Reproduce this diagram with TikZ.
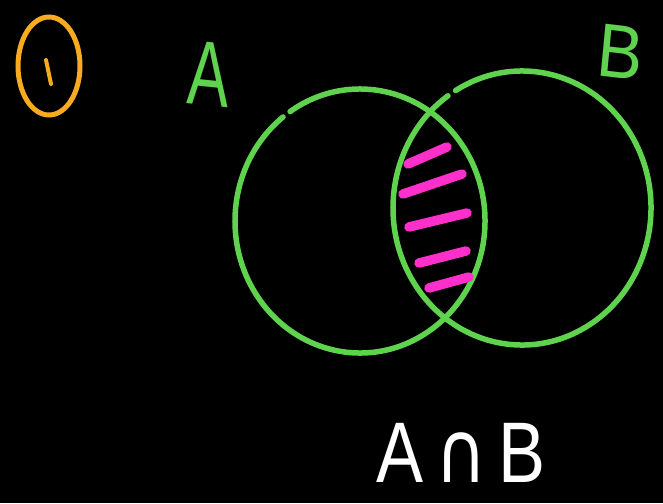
\documentclass[tikz,border=0pt]{standalone}
\usepackage{fontspec}
\setmainfont{Liberation Sans}
\newfontfamily\symfont{DejaVu Sans}
\definecolor{vgreen}{HTML}{5FD34E}
\definecolor{vpink}{HTML}{FF2FCB}
\definecolor{vorange}{HTML}{F7AC1F}
\tikzset{
  setline/.style={draw=vgreen, line width=5.5pt, line cap=round},
  hatch/.style={draw=vpink, line width=9.5pt, line cap=round},
  greenlbl/.style={text=vgreen, inner sep=0pt},
}
\begin{document}
\begin{tikzpicture}[x=1pt,y=-1pt]
  \fill[black] (0,0) rectangle (663,503);
  \useasboundingbox (0,0) rectangle (663,503);
  % number marker
  \draw[draw=vorange, line width=5pt] (49,66) ellipse [x radius=31, y radius=49];
  \draw[draw=vorange, line width=4pt, line cap=round] (46,60) -- (51,84);
  % set A
  \draw[setline] (360,221) ++(236:125 and 132)
    arc[start angle=236, end angle=592, x radius=125, y radius=132];
  % set B
  \draw[setline] (522,208) ++(239:129 and 137)
    arc[start angle=239, end angle=595, x radius=129, y radius=137];
  % hatching of the intersection
  \draw[hatch] (408,164) -- (447,147);
  \draw[hatch] (403,194) -- (462,174);
  \draw[hatch] (409,227) -- (467,213);
  \draw[hatch] (419,263) -- (466,251);
  \draw[hatch] (429,288) -- (469,277);
  % labels
  \node[greenlbl, font=\fontsize{92}{94}\selectfont, xscale=0.68, rotate=-4] (labA) at (209,74) {A};
  \node[greenlbl, font=\fontsize{76}{78}\selectfont, xscale=0.9, rotate=-6] (labB) at (621,52) {B};
  \node[text=white, inner sep=0pt, font=\fontsize{86}{88}\selectfont, xscale=0.82] (inter) at (461,453) {A\,{\symfont ∩}\,B};
\end{tikzpicture}
\end{document}
